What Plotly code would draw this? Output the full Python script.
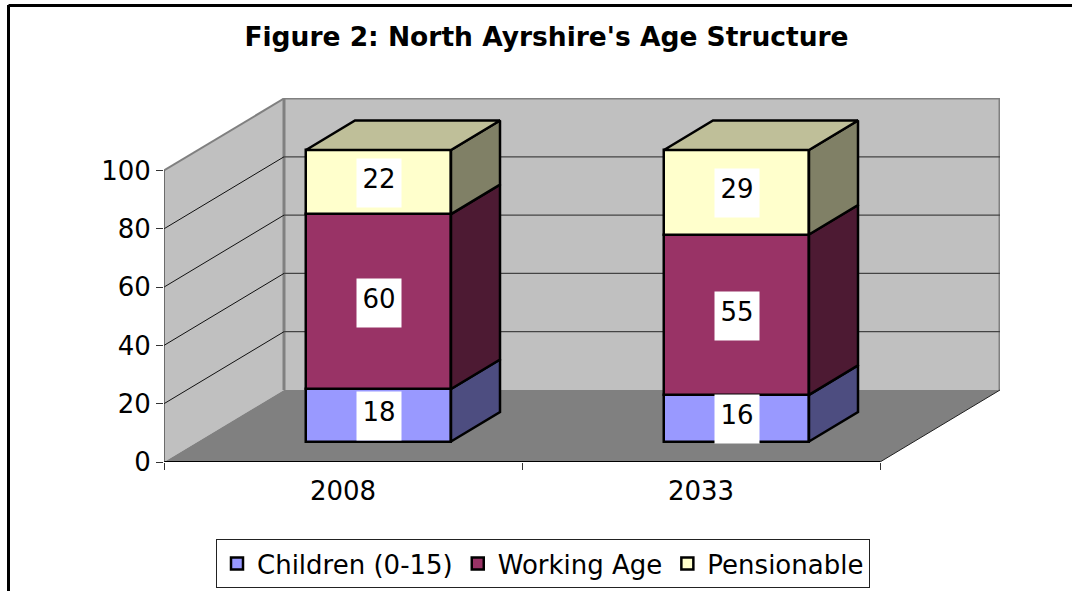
import plotly.graph_objects as go

categories = ["2008", "2033"]
series_names = ["Children (0-15)", "Working Age", "Pensionable"]
children = [18, 16]
working_age = [60, 55]
pensionable = [22, 29]
y_ticks = [0, 20, 40, 60, 80, 100]

front_colors = ["#9999FF", "#993366", "#FFFFCC"]
side_colors = ["#4D4D80", "#4D1A33", "#808066"]
top_color = "#BFBF99"

FONT = "DejaVu Sans"
W, H = 1072, 591
L, R, T, B = 164, 1000, 98, 462      # plot box, px
PX_X = 358.0                         # px per category
PX_Y = 2.915                         # px per value unit
DX, DY = 120 / PX_X, 72 / PX_Y       # wall depth in axis units
SX, SY = 35.5 / PX_X, 20.5 / PX_Y    # bar offset from the front plane
BX, BY = 49 / PX_X, 29.5 / PX_Y      # bar depth
BAR_W = 145 / PX_X

fig = go.Figure()
series = [children, working_age, pensionable]
centres = [i + 0.5 + SX for i in range(len(categories))]

# front faces
for name, vals, col, idx in zip(series_names, series, front_colors, range(3)):
    bases = [SY + sum(s[i] for s in series[:idx]) for i in range(len(categories))]
    fig.add_trace(go.Bar(x=centres, y=vals, base=bases, width=BAR_W, name=name,
                         marker=dict(color=col, line=dict(color="black", width=2.5)),
                         hoverinfo="skip"))

# side and top faces
for i, cx in enumerate(centres):
    xr = cx + BAR_W / 2
    xl = cx - BAR_W / 2
    cum = SY
    for idx, vals in enumerate(series):
        y0, y1 = cum, cum + vals[i]
        fig.add_trace(go.Scatter(x=[xr, xr + BX, xr + BX, xr, xr], y=[y0, y0 + BY, y1 + BY, y1, y0],
                                 fill="toself", fillcolor=side_colors[idx], mode="lines",
                                 line=dict(color="black", width=2.5), showlegend=False, hoverinfo="skip"))
        cum = y1
    fig.add_trace(go.Scatter(x=[xl, xl + BX, xr + BX, xr, xl], y=[cum, cum + BY, cum + BY, cum, cum],
                             fill="toself", fillcolor=top_color, mode="lines",
                             line=dict(color="black", width=2.5), showlegend=False, hoverinfo="skip"))

# walls and floor
n = len(categories)
ymax = y_ticks[-1]
def poly(xs, ys, fill, line=None, w=0):
    d = "M" + "L".join(f"{a},{b}" for a, b in zip(xs, ys)) + "Z"
    return dict(type="path", path=d, xref="x", yref="y", fillcolor=fill, layer="below",
                line=dict(color=line or fill, width=w))
def seg(x0, y0, x1, y1, col, w, layer="below"):
    return dict(type="line", x0=x0, y0=y0, x1=x1, y1=y1, xref="x", yref="y",
                line=dict(color=col, width=w), layer=layer)

shapes = [
    poly([DX, n + DX, n + DX, DX], [DY, DY, ymax + DY, ymax + DY], "#C0C0C0"),
    poly([0, DX, DX, 0], [0, DY, ymax + DY, ymax], "#C0C0C0"),
    poly([0, n, n + DX, DX], [0, 0, DY, DY], "#808080"),
    seg(DX, DY, DX, ymax + DY, "#808080", 3),
    seg(n + DX, DY, n + DX, ymax + DY, "#808080", 3),
    seg(DX, ymax + DY, n + DX, ymax + DY, "#808080", 2),
    seg(0, ymax, DX, ymax + DY, "#808080", 2),
    seg(n, 0, n + DX, DY, "#222222", 1),
]
for t in y_ticks[1:-1]:
    shapes.append(seg(0, t, DX, t + DY, "#111111", 1))
    shapes.append(seg(DX, t + DY, n + DX, t + DY, "#444444", 1.2))
shapes.append(seg(0, 0, n, 0, "black", 2))
shapes.append(seg(0, 0, 0, ymax, "#333333", 1.2))
# outer frame
shapes.append(dict(type="line", xref="paper", yref="paper",
                   x0=(8.5 - L) / (R - L), x1=(W - L) / (R - L),
                   y0=(B - 5.5) / (B - T), y1=(B - 5.5) / (B - T), line=dict(color="black", width=3)))
shapes.append(dict(type="line", xref="paper", yref="paper",
                   x0=(8.5 - L) / (R - L), x1=(8.5 - L) / (R - L),
                   y0=(B - 5) / (B - T), y1=(B - H) / (B - T), line=dict(color="black", width=3)))

# data labels
annotations = []
for i, cx in enumerate(centres):
    cum = SY
    for vals in series:
        annotations.append(dict(x=cx, y=cum + vals[i] / 2, text=str(vals[i]), showarrow=False,
                                xref="x", yref="y", bgcolor="white", width=34, height=38, borderpad=5,
                                valign="top", yshift=-1,
                                font=dict(family=FONT, size=26, color="black")))
        cum += vals[i]

fig.update_layout(
    width=W, height=H, margin=dict(l=L, r=W - R, t=T, b=H - B, autoexpand=False),
    paper_bgcolor="white", plot_bgcolor="rgba(0,0,0,0)", barmode="overlay", bargap=0,
    title=dict(text="<b>Figure 2: North Ayrshire's Age Structure</b>", x=546.5 / W, xanchor="center",
               y=1 - 37 / H, yanchor="middle", font=dict(family=FONT, size=26.5, color="black")),
    xaxis=dict(range=[0, (R - L) / PX_X], tickmode="array", tickvals=[i + 0.5 for i in range(n)],
               ticktext=categories, ticks="", showgrid=False, zeroline=False, showline=False,
               tickfont=dict(family=FONT, size=26, color="black"), ticklabelstandoff=11,
               minor=dict(tickmode="array", tickvals=list(range(n + 1)), ticks="outside", ticklen=7,
                          tickcolor="#333333", tickwidth=1, showgrid=False)),
    yaxis=dict(range=[0, (B - T) / PX_Y], tickmode="array", tickvals=y_ticks, ticks="outside",
               ticklen=7, tickcolor="#333333", tickwidth=1, showgrid=False, zeroline=False, showline=False,
               tickfont=dict(family=FONT, size=26, color="black")),
    legend=dict(orientation="h", x=(216 - L) / (R - L), xanchor="left", y=(B - 539) / (B - T), yanchor="top",
                bgcolor="white", bordercolor="#222222", borderwidth=1, tracegroupgap=0,
                font=dict(family=FONT, size=26, color="black"), traceorder="normal", itemclick=False, itemdoubleclick=False),
    shapes=shapes, annotations=annotations, showlegend=True,
)
fig.write_html("out.html", post_script="document.body.style.margin='0';document.body.style.overflow='hidden';",
               config=dict(displayModeBar=False))
